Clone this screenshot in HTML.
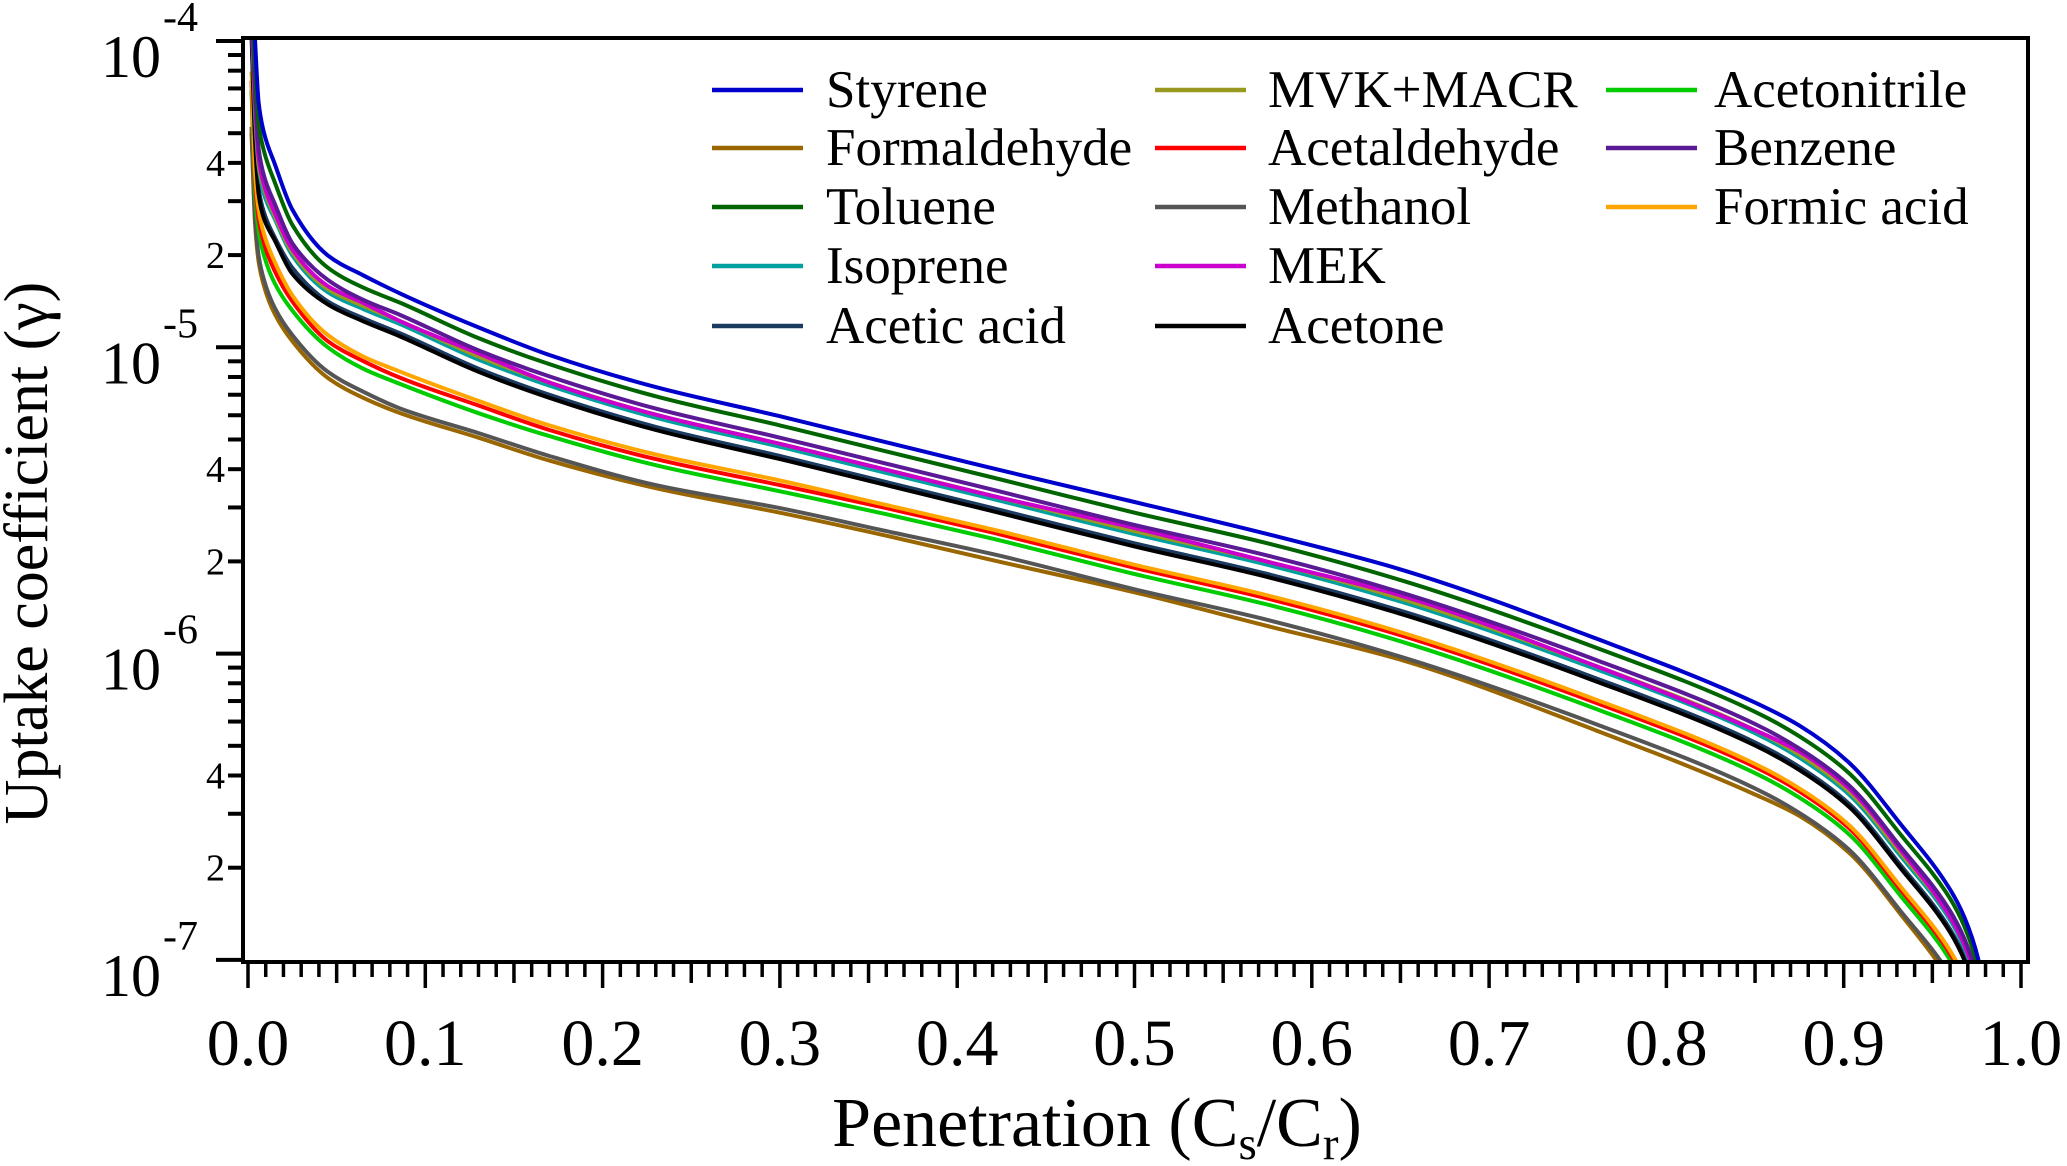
<!DOCTYPE html>
<html><head><meta charset="utf-8"><style>
html,body{margin:0;padding:0;background:#fff;overflow:hidden;width:2067px;height:1166px;}
svg{display:block;}
svg text{font-family:"Liberation Serif","DejaVu Serif",serif;}
</style></head><body>
<svg id="chart" width="2067" height="1166" viewBox="0 0 2067 1166" font-family="Liberation Serif, serif">
<defs><clipPath id="plotclip"><rect x="245" y="40" width="1781" height="920"/></clipPath></defs>
<g id="series" clip-path="url(#plotclip)"></g>
<g id="axes"></g>
<g id="legend"></g>
<text font-family="Liberation Serif, serif" transform="translate(47,553) rotate(-90)" text-anchor="middle" font-size="62">Uptake coefficient (γ)</text>
<text font-family="Liberation Serif, serif" x="1097" y="1146" text-anchor="middle" font-size="70">Penetration (C<tspan font-size="47" dy="13">s</tspan><tspan dy="-13">/C</tspan><tspan font-size="47" dy="13">r</tspan><tspan dy="-13">)</tspan></text>
</svg>
<script>
const xValues = [0.002,0.004,0.006,0.009,0.015,0.025,0.045,0.065,0.086,0.13,0.17,0.23,0.30,0.36,0.42,0.50,0.575,0.65,0.76,0.85,0.875,0.903,0.932,0.96,0.968,0.976,0.99];
const styrene = [-3.70,-4.00,-4.20,-4.30,-4.40,-4.55,-4.70,-4.765,-4.825,-4.935,-5.025,-5.13,-5.225,-5.31,-5.395,-5.505,-5.61,-5.725,-5.95,-6.16,-6.235,-6.356,-6.556,-6.77,-6.86,-7.00,-7.60];
const toluene = [-3.77,-4.08,-4.27,-4.36,-4.46,-4.60,-4.74,-4.805,-4.855,-4.97,-5.055,-5.16,-5.255,-5.34,-5.425,-5.54,-5.64,-5.76,-5.98,-6.19,-6.27,-6.39,-6.59,-6.80,-6.89,-7.03,-7.63];
const benzene = [-3.84,-4.17,-4.35,-4.44,-4.53,-4.66,-4.78,-4.845,-4.895,-5.01,-5.095,-5.20,-5.295,-5.38,-5.465,-5.58,-5.68,-5.80,-6.02,-6.23,-6.31,-6.43,-6.63,-6.84,-6.93,-7.07,-7.67];
const mek = [-3.87,-4.20,-4.38,-4.47,-4.56,-4.68,-4.80,-4.855,-4.915,-5.02,-5.115,-5.22,-5.315,-5.40,-5.485,-5.59,-5.70,-5.81,-6.04,-6.25,-6.32,-6.44,-6.64,-6.86,-6.95,-7.09,-7.69];
const mvkMacr = [-3.89,-4.22,-4.40,-4.48,-4.57,-4.69,-4.81,-4.865,-4.915,-5.03,-5.115,-5.22,-5.315,-5.40,-5.485,-5.60,-5.70,-5.82,-6.04,-6.25,-6.33,-6.45,-6.65,-6.86,-6.95,-7.09,-7.69];
const isoprene = [-3.90,-4.24,-4.41,-4.50,-4.58,-4.70,-4.82,-4.875,-4.925,-5.04,-5.125,-5.23,-5.325,-5.41,-5.495,-5.61,-5.71,-5.83,-6.05,-6.26,-6.34,-6.46,-6.66,-6.87,-6.96,-7.10,-7.70];
const aceticAcid = [-3.96,-4.31,-4.48,-4.56,-4.64,-4.74,-4.85,-4.905,-4.955,-5.07,-5.155,-5.26,-5.355,-5.44,-5.525,-5.64,-5.74,-5.86,-6.08,-6.29,-6.37,-6.49,-6.69,-6.90,-6.99,-7.13,-7.73];
const acetone = [-3.98,-4.33,-4.50,-4.58,-4.65,-4.76,-4.86,-4.915,-4.965,-5.08,-5.165,-5.27,-5.365,-5.45,-5.535,-5.65,-5.75,-5.87,-6.09,-6.30,-6.38,-6.50,-6.70,-6.91,-7.00,-7.14,-7.74];
const formicAcid = [-4.10,-4.43,-4.55,-4.63,-4.72,-4.83,-4.96,-5.03,-5.08,-5.175,-5.255,-5.35,-5.435,-5.515,-5.595,-5.71,-5.81,-5.93,-6.15,-6.36,-6.44,-6.56,-6.76,-6.97,-7.06,-7.20,-7.80];
const acetaldehyde = [-4.13,-4.46,-4.58,-4.66,-4.75,-4.85,-4.98,-5.045,-5.10,-5.19,-5.27,-5.365,-5.45,-5.525,-5.605,-5.72,-5.82,-5.94,-6.16,-6.37,-6.45,-6.57,-6.77,-6.98,-7.07,-7.21,-7.81];
const acetonitrile = [-4.16,-4.50,-4.62,-4.70,-4.79,-4.88,-5.00,-5.07,-5.12,-5.215,-5.29,-5.385,-5.47,-5.545,-5.625,-5.74,-5.84,-5.96,-6.18,-6.39,-6.47,-6.59,-6.79,-7.00,-7.09,-7.23,-7.83];
const methanol = [-4.28,-4.58,-4.70,-4.78,-4.87,-4.96,-5.08,-5.145,-5.20,-5.28,-5.355,-5.45,-5.525,-5.60,-5.675,-5.79,-5.89,-6.01,-6.23,-6.44,-6.52,-6.64,-6.84,-7.05,-7.14,-7.28,-7.88];
const formaldehyde = [-4.30,-4.60,-4.72,-4.80,-4.89,-4.98,-5.10,-5.165,-5.215,-5.295,-5.37,-5.46,-5.54,-5.615,-5.695,-5.80,-5.91,-6.02,-6.25,-6.46,-6.53,-6.65,-6.85,-7.07,-7.16,-7.30,-7.90];
const xTickLabels = ["0.0","0.1","0.2","0.3","0.4","0.5","0.6","0.7","0.8","0.9","1.0"];
const yDecades = [-4,-5,-6,-7];

const NS = "http://www.w3.org/2000/svg";
const FONT = "Liberation Serif, serif";
function xPos(v){ return 248 + v * 1773; }
function yPos(lg){ return 41 + (-4 - lg) * 306.3; }
function mk(tag, attrs, parent){ const e = document.createElementNS(NS, tag); for (const k in attrs) e.setAttribute(k, attrs[k]); parent.appendChild(e); return e; }
function monotonePath(pts){
  const n = pts.length, h = [], s = [], t = [];
  for (let i = 0; i < n - 1; i++) { h[i] = pts[i+1][0] - pts[i][0]; s[i] = (pts[i+1][1] - pts[i][1]) / h[i]; }
  t[0] = s[0]; t[n-1] = s[n-2];
  for (let i = 1; i < n - 1; i++) {
    if (s[i-1] * s[i] <= 0) t[i] = 0;
    else t[i] = 3 * (h[i-1] + h[i]) / ((2*h[i] + h[i-1]) / s[i-1] + (h[i] + 2*h[i-1]) / s[i]);
  }
  let d = "M" + pts[0][0].toFixed(1) + "," + pts[0][1].toFixed(1);
  for (let i = 0; i < n - 1; i++) {
    const k = h[i] / 3;
    d += " C" + (pts[i][0] + k).toFixed(1) + "," + (pts[i][1] + t[i]*k).toFixed(1) + " " +
         (pts[i+1][0] - k).toFixed(1) + "," + (pts[i+1][1] - t[i+1]*k).toFixed(1) + " " +
         pts[i+1][0].toFixed(1) + "," + pts[i+1][1].toFixed(1);
  }
  return d;
}

const seriesList = [
  ["Styrene", styrene, "#0000cc"],
  ["Formaldehyde", formaldehyde, "#996600"],
  ["Toluene", toluene, "#006400"],
  ["Isoprene", isoprene, "#00a0a0"],
  ["Acetic acid", aceticAcid, "#1a3a60"],
  ["MVK+MACR", mvkMacr, "#999920"],
  ["Acetaldehyde", acetaldehyde, "#ff0000"],
  ["Methanol", methanol, "#555555"],
  ["MEK", mek, "#cc00cc"],
  ["Acetone", acetone, "#000000"],
  ["Acetonitrile", acetonitrile, "#00cc00"],
  ["Benzene", benzene, "#5a1a96"],
  ["Formic acid", formicAcid, "#ffa500"]
];
const drawOrder = ["Formaldehyde","Methanol","Acetonitrile","Acetaldehyde","Formic acid","Acetic acid","Acetone","Isoprene","MVK+MACR","MEK","Benzene","Toluene","Styrene"];

const sg = document.getElementById("series");
drawOrder.forEach(name => {
  const s = seriesList.find(q => q[0] === name);
  const pts = s[1].map((v, i) => [xPos(xValues[i]), yPos(v)]);
  const p = mk("path", {d: monotonePath(pts), fill: "none", stroke: s[2], "stroke-width": 4, "stroke-linejoin": "round"}, sg);
  
  
});

const ax = document.getElementById("axes");
const frame = mk("rect", {x: 243, y: 38, width: 1785, height: 924, fill: "none", stroke: "#000", "stroke-width": 4}, ax);


for (let i = 0; i <= 100; i++) {
  const x = xPos(i / 100);
  const len = i % 10 === 0 ? 26 : (i % 5 === 0 ? 21 : 15);
  const t = mk("line", {x1: x, y1: 962, x2: x, y2: 962 + len, stroke: "#000", "stroke-width": 3.5}, ax);
  
  
}
xTickLabels.forEach((lab, i) => {
  const t = mk("text", {x: xPos(i / 10), y: 1065, "text-anchor": "middle", "font-size": 66, "font-family": FONT}, ax);
  t.textContent = lab;
  
  
});
yDecades.forEach(dec => {
  const y = yPos(dec);
  const t = mk("line", {x1: 216, y1: y, x2: 243, y2: y, stroke: "#000", "stroke-width": 4}, ax);
  
  
  const lab = mk("text", {x: 161, y: y + 36, "text-anchor": "end", "font-size": 60, "font-family": FONT}, ax);
  lab.textContent = "10";
  
  
  const ex = mk("text", {x: 163, y: y - 10, "font-size": 42, "font-family": FONT}, ax);
  ex.textContent = String(dec);
  
  
  if (dec > -7) {
    for (let m = 2; m <= 9; m++) {
      const my = yPos(dec - 1 + Math.log10(m));
      const mt = mk("line", {x1: 228, y1: my, x2: 243, y2: my, stroke: "#000", "stroke-width": 4}, ax);
      
      
      if (m === 2 || m === 4) {
        const ml = mk("text", {x: 225, y: my + 13, "text-anchor": "end", "font-size": 38, "font-family": FONT}, ax);
        ml.textContent = String(m);
        
        
      }
    }
  }
});

const lg = document.getElementById("legend");
const legendCols = [[712, 826], [1155, 1268], [1606, 1714]];
const legendRows = [90, 148, 207, 266, 326];
const legendLayout = [
  [0,0,"Styrene"],[1,0,"MVK+MACR"],[2,0,"Acetonitrile"],
  [0,1,"Formaldehyde"],[1,1,"Acetaldehyde"],[2,1,"Benzene"],
  [0,2,"Toluene"],[1,2,"Methanol"],[2,2,"Formic acid"],
  [0,3,"Isoprene"],[1,3,"MEK"],
  [0,4,"Acetic acid"],[1,4,"Acetone"]
];
legendLayout.forEach(([c, r, name]) => {
  const s = seriesList.find(q => q[0] === name);
  const g = mk("g", {}, lg);
  
  
  const y = legendRows[r];
  mk("line", {x1: legendCols[c][0], y1: y, x2: legendCols[c][0] + 91, y2: y, stroke: s[2], "stroke-width": 4.5}, g);
  const t = mk("text", {x: legendCols[c][1], y: y + 17, "font-size": 53, "font-family": FONT}, g);
  t.textContent = name;
});
</script>
</body></html>
